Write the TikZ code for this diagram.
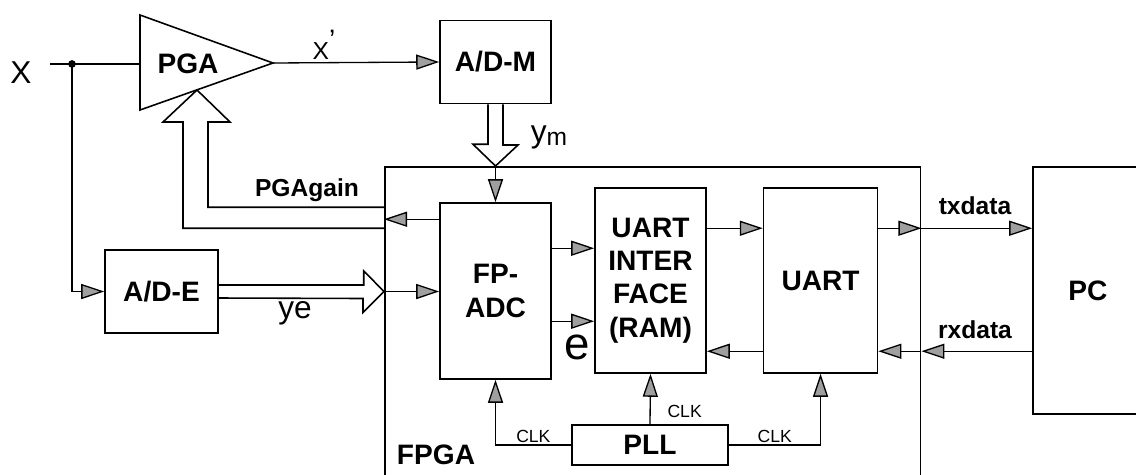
\documentclass[tikz,border=0pt]{standalone}
\usepackage{fontspec}
\setmainfont{Liberation Sans}
\usepackage{tikz}
\usetikzlibrary{positioning,calc,arrows.meta}
\tikzstyle{block}=[rectangle, draw=black, line width=0.9pt, align=center,
        font=\fontsize{16}{19}\selectfont\bfseries]
\tikzstyle{myarrow}=[-{Triangle[length=0.46cm,width=0.3cm,fill=gray!75]}, line width=0.75pt]
\tikzstyle{bus}=[line width=0.9pt, line join=miter]
\tikzstyle{signal}=[font=\fontsize{18}{20}\selectfont]
\tikzstyle{tag}=[font=\fontsize{14}{16}\selectfont\bfseries]
\tikzstyle{clk}=[font=\fontsize{10}{12}\selectfont, inner sep=1pt]

\begin{document}
\begin{tikzpicture}[x=0.02cm, y=-0.02cm]
	\clip (0,0) rectangle (1136,474);

	% blocks
	\node (FPADC) [block, minimum width=2.22cm, minimum height=3.52cm] at (495.5,291) {FP-\\ADC};
	\node (ADM) [block, minimum width=2.22cm, minimum height=1.66cm, above=1.96cm of FPADC] {A/D-M};
	\node (RAM) [block, minimum width=2.22cm, minimum height=3.7cm] at (650.5,280.5) {UART\\INTER\\FACE\\(RAM)};
	\node (UART) [block, minimum width=2.28cm, minimum height=3.7cm, right=1.12cm of RAM] {UART};
	\node (ADE) [block, minimum width=2.26cm, minimum height=1.66cm] at (161.5,291.5) {A/D-E};
	\node (PLL) [block, minimum width=3.12cm, minimum height=0.8cm] at (650,445) {PLL};
	\node (PC) [block, minimum width=2.2cm, minimum height=4.94cm] at (1088,290.5) {PC};
	\node (FPGA) [draw, line width=0.9pt, minimum width=10.72cm, minimum height=6.8cm, anchor=north west] at (384,166) {};
	\node (FPGAlabel) [block, draw=none] at (436,455) {FPGA};

	% amplifier
	\coordinate (PGAtop) at (140,15);
	\coordinate (PGAbot) at (140,110);
	\coordinate (PGAtip) at (273,63);
	\coordinate (PGAin) at (140,64);
	\coordinate (PGAgainTip) at (197,90);
	\draw[line width=0.9pt] (PGAtop) -- (PGAtip) -- (PGAbot) -- cycle;
	\node (PGA) [font=\fontsize{16}{19}\selectfont\bfseries] at (188,64) {PGA};

	% input
	\node (Xin) [signal] at (21,73) {X};
	\coordinate (Xstart) at (50,64);
	\coordinate (Split) at (72,64);
	\draw[line width=0.75pt] (Xstart) -- (PGAin);
	\fill (Split) circle (2.2pt);
	\draw[myarrow] (Split) |- (ADE.west);

	\draw[myarrow] (PGAtip) -- (ADM.west);
	\node (Xprime) [font=\fontsize{14}{16}\selectfont] at (324,45) {X\raisebox{0.8ex}{\fontsize{16}{16}\selectfont ’}};

	% ym bus
	\coordinate (ymTip) at (ADM.south |- FPGA.north);
	\draw[bus] ($(ADM.south)+(-7.5,0)$) -- ++(0,40) -- ++(-15,0) -- (ymTip) -- ++(22.5,-21) -- ++(-15,0) -- ($(ADM.south)+(7.5,0)$);
	\draw[myarrow] (ymTip) -- (FPADC.north);
	\node (ym) [signal] at (549,137) {y\raisebox{-0.2ex}{\fontsize{14}{15}\selectfont m}};

	% gain bus
	\coordinate (GainOut) at ($(FPADC.north west)+(0,17)$);
	\draw[myarrow] (GainOut) -- (FPGA.west |- GainOut);
	\draw[bus] ($(FPGA.west |- GainOut)+(0,9)$) -| ($(PGAgainTip)+(-14,32)$) -- ++(-20,0) -- (PGAgainTip)
		-- ++(33,32) -- ++(-22,0) |- ($(FPGA.west |- GainOut)+(0,-12)$);
	\node (PGAgain) [tag] at (307,190) {PGAgain};

	% ye bus
	\coordinate (yeTip) at (FPGA.west |- ADE.east);
	\draw[bus] ($(ADE.east)+(0,-6.5)$) -- ++(145,0) -- ++(0,-14) -- (yeTip) -- ++(-21,21) -- ++(0,-14) -- ($(ADE.east)+(0,6.5)$);
	\draw[myarrow] (yeTip) -- (FPADC.west |- yeTip);
	\node (ye) [signal] at (295,313) {ye};

	% FP-ADC to RAM
	\coordinate (Data) at ($(FPADC.north east)+(0,46)$);
	\coordinate (Err) at ($(FPADC.north east)+(0,119)$);
	\draw[myarrow] (Data) -- (RAM.west |- Data);
	\draw[myarrow] (Err) -- (RAM.west |- Err);
	\node (e) [font=\fontsize{26}{28}\selectfont] at (577,347) {e};

	% serial lines
	\coordinate (Tx) at ($(RAM.north east)+(0,41)$);
	\coordinate (Rx) at ($(RAM.north east)+(0,164)$);
	\draw[myarrow] (Tx) -- (UART.west |- Tx);
	\draw[myarrow] (UART.west |- Rx) -- (Rx);
	\draw[myarrow] (UART.east |- Tx) -- (FPGA.east |- Tx);
	\draw[myarrow] (FPGA.east |- Tx) -- (PC.west |- Tx);
	\draw[myarrow] (PC.west |- Rx) -- (FPGA.east |- Rx);
	\draw[myarrow] (FPGA.east |- Rx) -- (UART.east |- Rx);
	\node (txdata) [tag] at (975,206) {txdata};
	\node (rxdata) [tag] at (975,330) {rxdata};

	% clock
	\draw[myarrow] (PLL.west) -| node[clk, pos=0.25, above] {CLK} (FPADC.south);
	\draw[myarrow] (PLL.north) -- node[clk, pos=0.25, right=0.3cm] {CLK} (RAM.south);
	\draw[myarrow] (PLL.east) -| node[clk, pos=0.25, above] {CLK} (UART.south);

\end{tikzpicture}
\end{document}
